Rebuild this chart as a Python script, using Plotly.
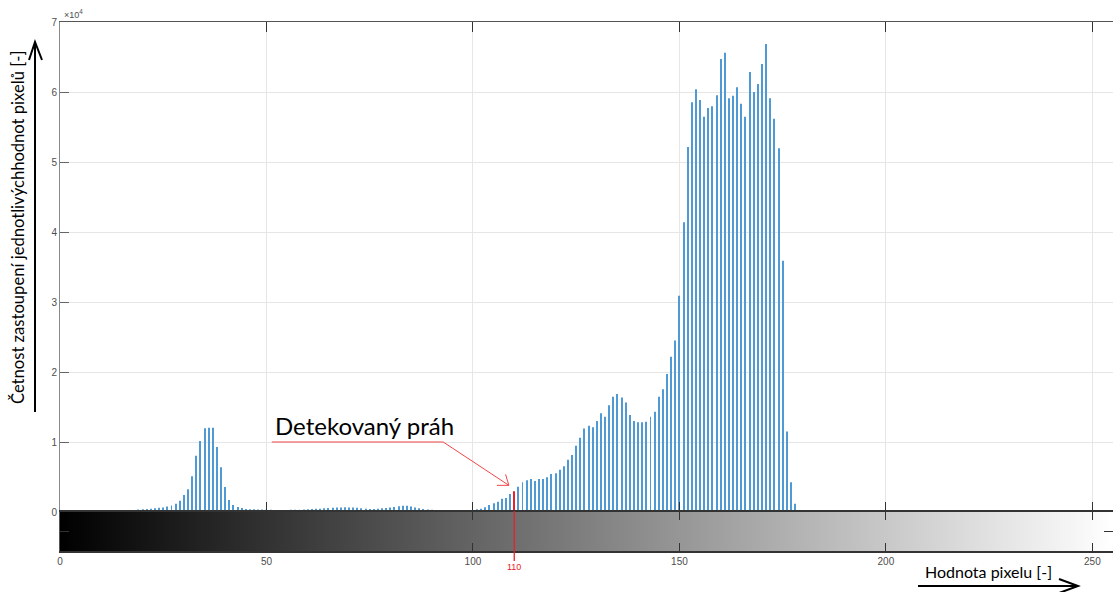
import plotly.graph_objects as go

# Histogram of pixel intensities (levels 13..178 carry non-zero counts)
levels = list(range(13, 179))
counts = [
    60, 120, 180, 230, 270, 300, 340, 390, 430, 480,            # 13-22
    530, 600, 660, 780, 920, 1190, 1620, 2430, 3240, 5100,      # 23-32
    8050, 10140, 11950, 12050, 12050, 9290, 6380, 3570, 1710, 1000,  # 33-42
    710, 570, 420, 380, 380, 360, 350, 320, 310, 300,           # 43-52
    300, 290, 300, 310, 320, 330, 350, 380, 420, 450,           # 53-62
    480, 520, 560, 620, 650, 640, 680, 660, 640, 600,           # 63-72
    540, 480, 430, 420, 460, 520, 580, 650, 720, 820,           # 73-82
    880, 900, 800, 650, 520, 430, 370, 330, 300, 280,           # 83-92
    260, 250, 240, 240, 250, 260, 280, 300, 380, 450,           # 93-102
    670, 1000, 1240, 1480, 1900, 2000, 2570, 2950, 3620, 4240,  # 103-112
    4520, 4710, 4430, 4710, 4710, 4950, 5430, 5520, 6020, 6540,  # 113-122
    7450, 8140, 9480, 10600, 11920, 12310, 12100, 13000, 14120, 13620,  # 123-132
    15240, 16480, 16860, 16350, 15650, 13840, 13000, 12810, 12810, 12900,  # 133-142
    13620, 14330, 16480, 17550, 19710, 22190, 24500, 30900, 41400, 52140,  # 143-152
    58550, 60400, 58860, 56480, 57710, 57950, 59520, 64710, 65620, 59100,  # 153-162
    59480, 60670, 58330, 56480, 62860, 60000, 61140, 64000, 66860, 59100,  # 163-172
    56190, 51950, 35900, 11500, 4260, 1190,                     # 173-178
]

threshold = 110
gray_levels = list(range(256))
x_ticks = [0, 50, 100, 150, 200, 250]
y_ticks = [0, 10000, 20000, 30000, 40000, 50000, 60000, 70000]
y_ticktext = ["0", "1", "2", "3", "4", "5", "6", "7"]

W, H = 1113, 592
ML, MR, MT, MB = 60, 0, 22, 41
PW, PH = W - ML - MR, H - MT - MB
CB_H = 39  # height of the gray-level strip in px
cb_frac = CB_H / PH


def px(xp):
    return (xp - ML) / PW


def py(yp):
    return (H - MB - yp) / PH


bar_colors = ["#E8202A" if v == threshold else "#4F99D5" for v in levels]

fig = go.Figure()
fig.add_trace(go.Bar(
    x=levels, y=counts, width=0.24,
    marker=dict(color=bar_colors, line=dict(width=0)),
    xaxis="x", yaxis="y", hoverinfo="x+y",
))
fig.add_trace(go.Heatmap(
    x=gray_levels, y=[0.5], z=[gray_levels],
    colorscale=[[0, "#000000"], [1, "#ffffff"]],
    showscale=False, xaxis="x2", yaxis="y2", hoverinfo="skip",
))

tickfont = dict(family="Liberation Sans, Arial", size=10, color="#4d4d4d")

fig.update_layout(
    width=W, height=H,
    margin=dict(l=ML, r=MR, t=MT, b=MB, autoexpand=False),
    paper_bgcolor="white", plot_bgcolor="white",
    showlegend=False,
    xaxis=dict(
        domain=[0, 1], range=[0, 255], anchor="y",
        tickvals=x_ticks, showticklabels=False,
        ticks="inside", ticklen=10, tickcolor="#333333", tickwidth=1,
        showgrid=True, gridcolor="#e6e6e6", gridwidth=1,
        showline=True, linecolor="#555555", linewidth=1, mirror="ticks",
        zeroline=False,
    ),
    yaxis=dict(
        domain=[cb_frac, 1], range=[0, 70000], anchor="x",
        tickvals=y_ticks, ticktext=y_ticktext, tickfont=tickfont,
        ticks="inside", ticklen=9, tickcolor="#666666",
        showgrid=True, gridcolor="#e6e6e6", gridwidth=1,
        showline=True, linecolor="#8a8a8a", linewidth=1,
        zeroline=False,
    ),
    xaxis2=dict(
        domain=[0, 1], range=[0, 255], anchor="y2", matches="x",
        tickvals=x_ticks, tickfont=tickfont,
        ticks="inside", ticklen=8, tickcolor="#333333",
        showgrid=False, showline=True, linecolor="#333333", linewidth=1.5,
        mirror="ticks", zeroline=False,
    ),
    yaxis2=dict(
        domain=[0, cb_frac], range=[0, 1], anchor="x2",
        tickvals=[0.5], showticklabels=False,
        ticks="inside", ticklen=9, tickcolor="#333333",
        showgrid=False, showline=True, linecolor="#555555",
        mirror="ticks", zeroline=False,
    ),
)

# Exponent label of the count axis
fig.add_annotation(
    xref="paper", yref="paper", x=0.0015, y=1.0, xanchor="left", yanchor="bottom",
    text="×10<sup>4</sup>", showarrow=False,
    font=dict(family="Liberation Sans, Arial", size=9, color="#4d4d4d"),
)

# Threshold marker through the gray-level strip and its label
fig.add_shape(type="line", xref="x", yref="paper", x0=threshold, x1=threshold,
              y0=py(561), y1=py(511), line=dict(color="#E8202A", width=1.3), layer="above")
fig.add_annotation(
    xref="x", yref="paper", x=threshold, y=py(567), xanchor="center", yanchor="middle",
    text=str(threshold), showarrow=False,
    font=dict(family="Liberation Sans, Arial", size=9, color="#E8202A"),
)

# Callout pointing at the detected threshold
tip_x, tip_y = 108.7, 3810
knee_x, knee_y = 92.8, 10000
start_x = 51.3
ux = 255 / PW            # data units per px horizontally
uy = 70000 / (PH - CB_H)  # counts per px vertically
red = "rgb(240,70,70)"
fig.add_shape(type="path", xref="x", yref="y",
              path=f"M {start_x},{knee_y} L {knee_x},{knee_y} L {tip_x},{tip_y}",
              line=dict(color=red, width=1))
fig.add_shape(type="path", xref="x", yref="y",
              path=(f"M {tip_x - 12 * ux},{tip_y} L {tip_x},{tip_y} "
                    f"L {tip_x - 3.3 * ux},{tip_y + 11 * uy}"),
              line=dict(color=red, width=1))
fig.add_annotation(
    xref="x", yref="y", x=start_x + 0.3, y=knee_y, xanchor="left", yanchor="bottom",
    text="Detekovaný práh", showarrow=False,
    font=dict(family="Lato, Open Sans", size=24, color="black"),
)

# Axis titles with hand-drawn style arrows
fig.add_annotation(
    xref="paper", yref="paper", x=px(18), y=py(227), xanchor="center", yanchor="middle",
    textangle=-90,
    text="Četnost zastoupení jednotlivýchhodnot pixelů [-]", showarrow=False,
    font=dict(family="Lato, Open Sans", size=16.6, color="black"),
)
fig.add_shape(type="line", xref="paper", yref="paper",
              x0=px(35), x1=px(35), y0=py(412), y1=py(43),
              line=dict(color="black", width=2))
fig.add_shape(type="path", xref="paper", yref="paper",
              path=f"M {px(29)},{py(60)} L {px(35)},{py(42)} L {px(42)},{py(60)}",
              line=dict(color="black", width=2))

fig.add_annotation(
    xref="paper", yref="paper", x=px(988), y=py(571), xanchor="center", yanchor="middle",
    text="Hodnota pixelu [-]", showarrow=False,
    font=dict(family="Lato, Open Sans", size=16, color="black"),
)
fig.add_shape(type="line", xref="paper", yref="paper",
              x0=px(918), x1=px(1077), y0=py(586), y1=py(586),
              line=dict(color="black", width=2))
fig.add_shape(type="path", xref="paper", yref="paper",
              path=f"M {px(1059)},{py(579)} L {px(1078)},{py(586)} L {px(1059)},{py(593)}",
              line=dict(color="black", width=2))

fig.write_html("out.html")
